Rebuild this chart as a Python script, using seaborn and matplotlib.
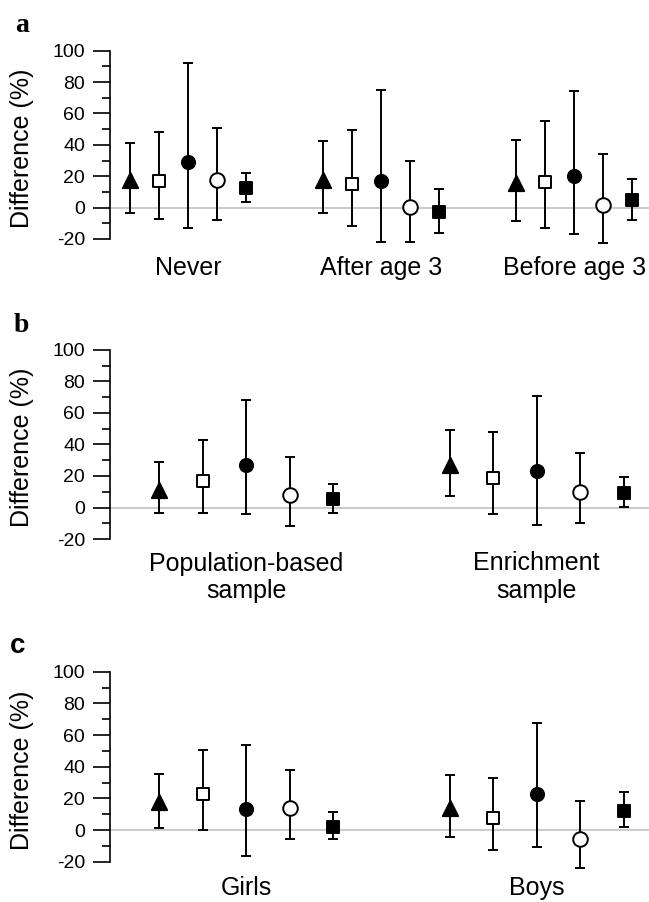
import numpy as np
import pandas as pd
import matplotlib
matplotlib.use("Agg")
import matplotlib.pyplot as plt
import seaborn as sns
from matplotlib.ticker import MultipleLocator

sns.set_style("ticks")
plt.rcParams['font.family'] = ['Liberation Sans', 'DejaVu Sans']
plt.rcParams['text.color'] = 'black'
plt.rcParams['axes.labelcolor'] = 'black'
plt.rcParams['xtick.color'] = 'black'
plt.rcParams['ytick.color'] = 'black'

# ---------------- data ----------------
series_names = ["Series 1", "Series 2", "Series 3", "Series 4", "Series 5"]

a_groups = ["Never", "After age 3", "Before age 3"]
a_est = [[17.6, 17.2, 28.9, 17.4, 12.3],
         [17.5, 15.0, 16.8, 0.4, -3.0],
         [15.5, 16.6, 20.0, 1.7, 4.7]]
a_low = [[-3.6, -7.0, -13.2, -8.1, 3.6],
         [-3.2, -11.9, -21.7, -21.9, -16.1],
         [-8.3, -12.7, -17.0, -22.7, -7.6]]
a_high = [[41.4, 48.0, 91.9, 50.5, 22.0],
          [42.5, 49.5, 75.0, 29.5, 12.1],
          [43.3, 55.2, 74.5, 34.2, 18.5]]

b_groups = ["Population-based\nsample", "Enrichment\nsample"]
b_est = [[11.4, 17.0, 26.7, 7.8, 5.3],
         [27.3, 18.9, 22.9, 9.7, 9.5]]
b_low = [[-3.6, -3.8, -4.4, -11.7, -3.2],
         [7.6, -4.4, -11.2, -10.0, 0.4]]
b_high = [[28.8, 42.6, 68.0, 32.0, 15.0],
          [49.0, 47.9, 70.8, 34.7, 19.3]]

c_groups = ["Girls", "Boys"]
c_est = [[18.0, 22.7, 13.6, 14.0, 2.1],
         [14.2, 7.4, 22.7, -5.5, 12.3]]
c_low = [[1.1, 0.0, -16.1, -5.7, -5.7],
         [-4.7, -12.7, -10.4, -24.2, 1.9]]
c_high = [[35.4, 50.6, 53.6, 38.1, 11.2],
          [34.5, 32.6, 67.6, 18.2, 23.9]]

y_ticks = [-20, 0, 20, 40, 60, 80, 100]

# ---------------- styles ----------------
markers = ["^", "s", "o", "o", "s"]
faces = ["black", "white", "black", "white", "black"]
msizes = [11.0, 9.3, 9.5, 10.5, 9.3]
offset_step = 0.15


def build(groups, est, low, high):
    rows = []
    for gi, g in enumerate(groups):
        for si, s in enumerate(series_names):
            rows.append(dict(group=g, gi=gi, series=s, si=si,
                             est=est[gi][si], low=low[gi][si], high=high[gi][si]))
    df = pd.DataFrame(rows)
    df["x"] = df["gi"] + (df["si"] - 2) * offset_step
    return df


W, H = 649, 902
fig = plt.figure(figsize=(W / 100, H / 100), dpi=100)

panels = [
    dict(df=build(a_groups, a_est, a_low, a_high), groups=a_groups,
         top=50.7, bot=239.0, xlim=(-0.4057, 2.387), pad=12.5,
         label="a", lab_xy=(21.7, 31.7), lab_font=['Liberation Serif', 'DejaVu Serif']),
    dict(df=build(b_groups, b_est, b_low, b_high), groups=b_groups,
         top=350.0, bot=539.0, xlim=(-0.469, 1.3866), pad=9.0,
         label="b", lab_xy=(21.0, 331.7), lab_font=['Liberation Serif', 'DejaVu Serif']),
    dict(df=build(c_groups, c_est, c_low, c_high), groups=c_groups,
         top=671.7, bot=861.7, xlim=(-0.469, 1.3866), pad=10.0,
         label="c", lab_xy=(18.0, 653.3), lab_font=['Liberation Sans', 'DejaVu Sans']),
]

left_px = 110.0
for p in panels:
    ax = fig.add_axes([left_px / W, 1 - p["bot"] / H, 1 - left_px / W, (p["bot"] - p["top"]) / H])
    df = p["df"]
    ax.axhline(0, color="#c6c6c6", lw=1.3, zorder=1)
    for si, s in enumerate(series_names):
        sub = df[df["series"] == s]
        eb = ax.errorbar(sub["x"], sub["est"],
                         yerr=[sub["est"] - sub["low"], sub["high"] - sub["est"]],
                         fmt="none", ecolor="black", elinewidth=1.4, capsize=3.6,
                         capthick=1.4, zorder=2)
        for art in eb.lines[1]:
            art.set_clip_on(False)
        for art in eb.lines[2]:
            art.set_clip_on(False)
        sns.scatterplot(data=sub, x="x", y="est", marker=markers[si],
                        s=msizes[si] ** 2, color=faces[si], edgecolor="black",
                        linewidth=1.4, zorder=3, ax=ax, legend=False, clip_on=False)
    ax.set_xlim(*p["xlim"])
    ax.set_ylim(-20, 100)
    ax.set_yticks(y_ticks)
    ax.set_yticklabels([str(t) for t in y_ticks], fontsize=14)
    ax.yaxis.set_minor_locator(MultipleLocator(10))
    ax.tick_params(axis="y", which="major", length=12, width=1.2, pad=6, direction="out", color="black")
    ax.tick_params(axis="y", which="minor", length=6, width=1.2, direction="out", color="black")
    ax.set_xticks(range(len(p["groups"])))
    ax.set_xticklabels(p["groups"], fontsize=18)
    ax.tick_params(axis="x", length=0, pad=p["pad"])
    ax.set_xlabel("")
    ax.set_ylabel("Difference (%)", fontsize=18, va="center")
    ax.yaxis.set_label_coords(-0.163, 0.483)
    for sp in ["top", "right", "bottom"]:
        ax.spines[sp].set_visible(False)
    ax.spines["left"].set_linewidth(1.2)
    ax.spines["left"].set_color("black")
    ax.set_facecolor("white")
    fig.text(p["lab_xy"][0] / W, 1 - p["lab_xy"][1] / H, p["label"],
             fontsize=20, fontweight="bold", family=p["lab_font"],
             ha="center", va="baseline")

fig.savefig("out.png", dpi=100, facecolor="white")
